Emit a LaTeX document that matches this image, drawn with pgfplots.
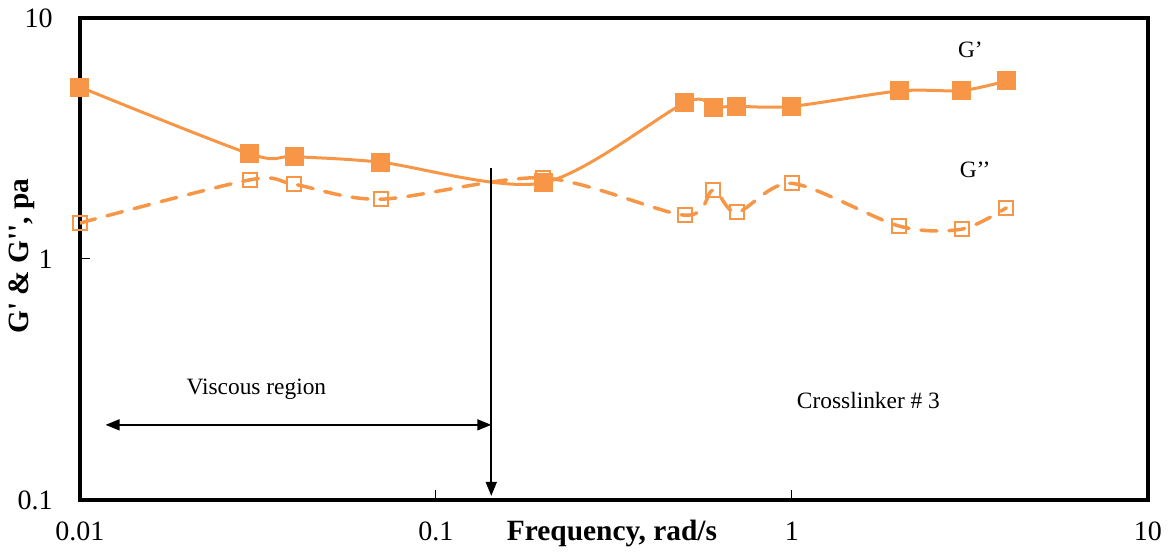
\documentclass[border=0pt]{standalone}
\usepackage{pgfplots}
\pgfplotsset{compat=1.18}
\usepackage{fontspec}
\setmainfont{Liberation Serif}
\usetikzlibrary{arrows.meta}
\definecolor{gor}{HTML}{F79646}
\begin{document}
\begin{tikzpicture}
\begin{axis}[
  scale only axis, width=534pt, height=241pt,
  xmode=log, ymode=log,
  xmin=0.01, xmax=10, ymin=0.1, ymax=10,
  xtick={0.01,0.1,1,10}, xticklabels={0.01,0.1,1,10},
  ytick={0.1,1,10}, yticklabels={0.1,1,10},
  xminorticks=false, yminorticks=false,
  axis line style={line width=2pt, black},
  major tick length=5pt, tick style={black, line width=0.5pt},
  tick align=inside,
  xtick pos=bottom, ytick pos=left,
  ticklabel style={font=\fontsize{14}{16}\selectfont, inner sep=0pt},
  xticklabel style={anchor=base, yshift=-20.5pt},
  yticklabel style={anchor=east, xshift=-13.5pt},
]
\addplot[gor, line width=1.5pt, smooth, tension=0.5, mark=square*, mark size=4pt, mark options={solid, fill=gor}]
coordinates {(0.01,5.17) (0.03,2.73) (0.04,2.66) (0.07,2.52) (0.2,2.07) (0.5,4.44) (0.6,4.27) (0.7,4.3) (1,4.3) (2,4.98) (3,5.0) (4,5.48)};
\addplot[gor, line width=1.75pt, smooth, tension=0.5, dash pattern=on 8pt off 6pt, line cap=round, mark=square, mark size=3.5pt, mark options={solid, line width=1pt, fill=white}]
coordinates {(0.01,1.41) (0.03,2.13) (0.04,2.04) (0.07,1.77) (0.2,2.17) (0.5,1.52) (0.6,1.93) (0.7,1.56) (1,2.06) (2,1.37) (3,1.33) (4,1.63)};
\draw[black, line width=0.8pt, -{Triangle[length=7pt,width=5.5pt]}] (axis cs:0.143,2.39) -- (axis cs:0.143,0.104);
\draw[black, line width=0.8pt, {Triangle[length=7pt,width=5.5pt]}-{Triangle[length=7pt,width=5.5pt]}] (axis cs:0.0118,0.205) -- (axis cs:0.143,0.205);
\node[font=\fontsize{11.7}{13}\selectfont] at (axis cs:0.0313,0.289) {Viscous region};
\node[font=\fontsize{11.7}{13}\selectfont] at (axis cs:1.64,0.258) {Crosslinker \# 3};
\node[font=\fontsize{11.7}{13}\selectfont] at (axis cs:3.17,7.36) {G’};
\node[font=\fontsize{11.7}{13}\selectfont] at (axis cs:3.27,2.34) {G’’};
\end{axis}
\node[rotate=90, font=\fontsize{14.7}{16}\selectfont\bfseries] at (-29pt,122pt) {G\textquotesingle{} \& G\textquotesingle\textquotesingle, pa};
\node[anchor=base, font=\fontsize{14.7}{16}\selectfont\bfseries] at (266pt,-20.5pt) {Frequency, rad/s};
\pgfresetboundingbox
\path (-40pt,-27.5pt) rectangle (544.5pt,250pt);
\end{tikzpicture}
\end{document}
